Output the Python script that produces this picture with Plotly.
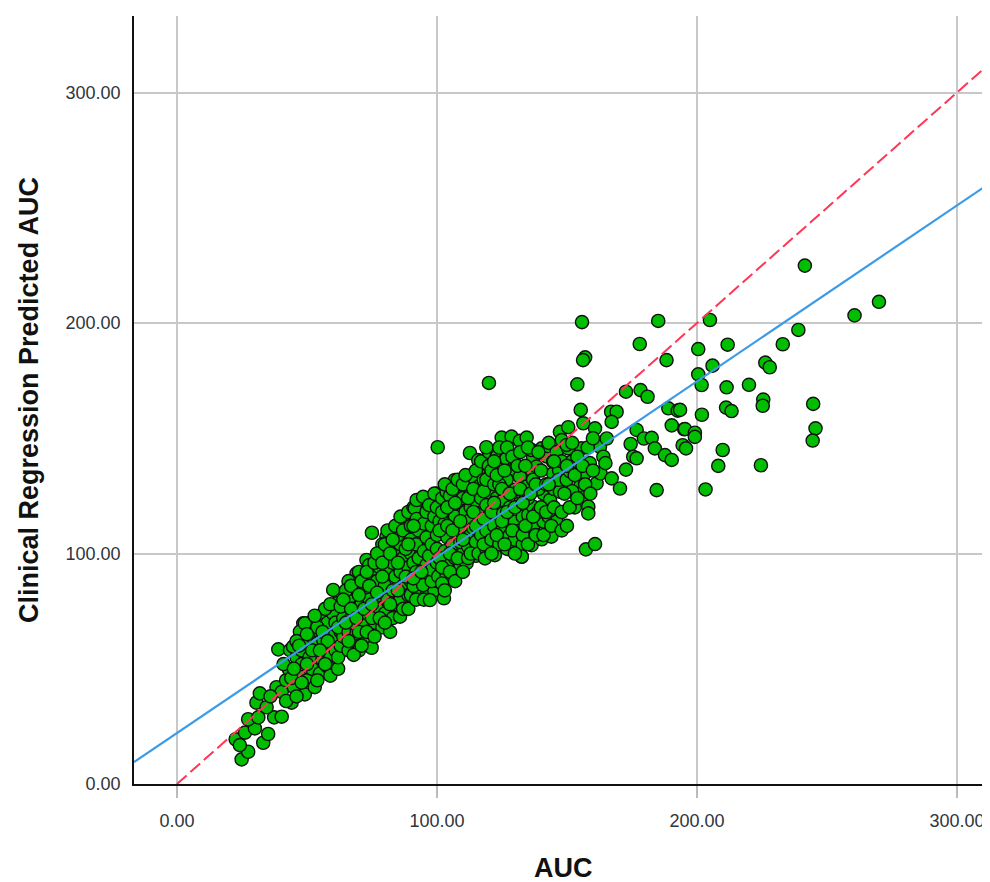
import plotly.graph_objects as go

# ---- data (AUC, predicted AUC) ----
pts_low = [
    (24.9,10.7),(27.4,14.0),(22.6,19.4),(24.2,16.9),(33.2,17.9),(35.1,21.7),(26.2,22.3),(30.0,24.1),
    (27.4,28.1),(31.3,28.9),(37.4,28.9),(40.3,29.2),(30.6,35.3),(31.9,39.3),(34.5,33.3),(38.3,42.0),
    (40.3,40.0),(44.1,35.3),(49.2,38.9),(39.0,58.4),(43.5,58.1),(36.0,38.0),(42.0,45.0),(45.0,42.0),
    (47.0,47.0),(43.0,50.0),(46.0,55.0),(41.0,52.0),(48.0,52.0),
    (44.7,59.6),(48.6,69.7),(51.8,70.4),(56.3,72.6),(47.3,66.1),(49.2,69.7),(50.0,45.0),(52.0,50.0),
    (53.0,56.0),(50.0,60.0),(52.0,64.0),(55.0,48.0),(56.0,54.0),(58.0,50.9),(57.0,60.0),(55.0,66.0),
    (58.0,70.0),(60.0,74.0),(53.0,42.0),(54.0,61.0),(59.0,56.0),(60.0,64.0),(61.4,78.4),(60.1,84.2),
    (56.3,62.5),(48.0,58.0),(46.0,62.0),(51.0,55.0),(54.0,68.0),(57.0,76.0),
    (42,36),(44,46),(46,38),(48,44),(50,52),(52,58),(54,45),(56,66),(58,62),(59,47),(45,50),(47,60),
    (55,58),(57,52),(53,73),(50,65),(59,78),(61,70),(61,58),(62,50),(63,66),
]

pts_mid = [
    (62,55),(63,60),(64,64),(62,68),(64,72),(63,77),(66,58),(66,66),(67,72),(66,80),(68,62),(69,68),
    (68,76),(69,84),(69.1,91.4),(70,58),(71,64),(72,70),(71,78),(72,86),(72.9,97.2),(74,62),(73,74),
    (74,80),(75,90),(75.5,65.4),(69.1,65.4),(74.9,59.1),(75,109),(66,88),(70,92),(74,95),(65,84),
    (76,70),(77,76),(78,82),(77,88),(78,94),(78.1,100),(79,68),(80,74),(81,80),(80,86),(81,92),
    (80,98),(80.6,107.3),(82,107.3),(83,72),(84,78),(83,84),(84,90),(83,96),(84,102),(85.8,113.1),
    (85.8,72.6),(86,80),(87,86),(86,92),(87,98),(86,104),(88,110),(88,76),(89,82),(89,94),(88,116),
    (90,100),(90,88),(79,104),(82,66),(85,108),
    (64,80),(65,70),(66,62),(67,76),(67,86),(68,56),(69,72),(70,82),(70,66),(71,88),(71,60),(72,76),
    (73,92),(73,66),(74,86),(75,72),(75,78),(76,96),(76,64),(77,83),(77,100),(78,72),(79,90),(79,96),
    (80,70),(80,104),
    (81,110),(82,100),(82,78),(83,106),(84,112),(85,84),(85,96),(86,116),(87,76),(87,110),(88,90),
    (88,102),(89,118),(89,76),(90,106),(90,112),(90,82),(91,96),(91,120),(92,85),(93,116),(94,106),
    (94,100),(94,120),(95,88),(96,124),(97,84),(97,110),(98,98),(98,118),(99,84),(99,108),(100,126),
    (100,88),
    (91.5,119.6),(92.2,123.2),(92,80),(91,86),(92,92),(93,98),(92,104),(93,110),(92.2,115),
    (94.7,124.6),(94.7,86.3),(90.9,89.2),(95,80),(96,95),(95,101),(96,107),(95,113),(96,118),
    (97.3,79.8),(98,88),(98,93),(97,99),(98,104),(98,112),(97,121),(99,116),(99,126),(100.5,90.1),
    (100,96),(100,102),(100,108),(101,114),(100,120),(102,124),(102.7,80.6),(100.3,146.1),
    (103.7,126.8),(103.7,90.1),(104,96),(103,101),(104,107),(103,113),(105,119),(106.9,131.9),
    (106,92),(107,98),(106,104),(108,110),(107,116),(108,122),(108,127),(109,94),(110,100),(109,105),
    (110,112),(111,118),(110,124),(111.4,129.7),(111.4,95.8),(112,103),(113,108),(112,114),(113,120),
    (113,126),(112.7,143.6),(114,133),(115,99),(115,105),(114,111),(116,117),(115,123),(116,129),
    (115.9,140.5),(116,136),(105,125),(109,130),(102,87),(94,92),(89,104),(91,112),
    (101,98),(101,110),(102,94),(102,118),(103,84),(103,130),(104,120),(104,112),(105,92),(105,100),
    (106,110),(106,128),(107,88),(107,122),(108,98),(108,132),(109,114),(110,106),(110,92),(110,130),
    (111,134),(112,98),(112,124),(113,100),(114,118),(114,128),(115,112),(115,136),(116,100),
    (117,108),(117,124),(117,140),(118,132),(119,102),(120,116),(120,126),(120,144),
]

pts_high = [
    (118.5,97.9),(118,104),(119,110),(118,115),(119,121),(118,127),(119,132),(120,138),(119,146.1),
    (120,174),(122.3,99.3),(121,106),(122,112),(121,118),(123,124),(122,130),(121,136),(123,142),
    (124.9,150.3),(124,104),(125,110),(125.5,117.5),(125.5,123.2),(126.8,132),(126.8,142),
    (126.7,141.2),(128.7,150.7),(127,102),(128,108),(128,114),(129.4,137),(130,127.6),(128,120),
    (129.9,136.5),(130,113.8),(130,106),(131.9,148.9),(134.5,150.3),(131.9,121.8),(132.6,98.6),
    (133,104),(132,110),(131.9,133.3),(134.5,129),(133,116),(135.1,116.8),(136.4,103.6),(136.4,136.2),
    (137,141.8),(137,120.3),(137,132),(137,111.7),(138.3,137.7),(136.4,144.9),(140.3,145.6),(141,126),
    (141,113.8),(140,107),(139,118),(142.3,142),(142.8,146.6),(143.5,123.2),(144.7,134.8),(144.7,139.8),
    (140.3,106.2),(144,107.3),(139,128),(143,116),(146,113.8),(132.6,98.7),(124,130),(135,124),
    (121,100),(122,122),(122,140),(123,108),(123,134),(124,146),(125,114),(125,128),(126,104),
    (126,136),(127,118),(127,146),(128,126),(129,110),(129,142),(130,100),(130,120),(131,138),
    (132,128),(132,144),(133,108),(133,122),(134,112),(134,138),(135,104),(135,146),(136,126),
    (137,116),(138,108),(138,130),(139,144),(140,120),(140,136),(141,108),(142,130),(142,118),
    (143,148),(144,112),(145,128),(145,120),(146,144),(147,136),(148,110),(148,140),
    (147.3,126.8),(146.7,132),(149.9,132),(151.2,135.6),(147.3,152.8),(148,149.2),(150.5,154.8),
    (150.5,145.6),(149.9,147.1),(155.6,145.6),(155,129),(155.6,126),(156.9,124.6),(156.9,134.8),
    (158.8,139.2),(155.3,162.3),(156.3,156.5),(160.8,154.3),(154,173.4),(157,185.1),(156.2,183.9),
    (155.8,200.4),(158.2,120.3),(158.2,117.4),(157.3,101.8),(160.8,104.1),(161.4,130.4),(162.7,146.3),
    (164,142),(162.9,134.8),(164.8,139.2),(165.3,149.9),(167,161.5),(169.1,161.5),(167.2,157.1),
    (167.2,132.6),(170.4,128.2),(152,140),(153,120),(148,118),(150,112),(145,140),(143,130),(152,127),
    (149,126),(150,138),(151,120),(152,148),(153,134),(154,124),(154,142),(156,138),(157,130),
    (158,146),(159,126),(160,136),(160,150),
]

pts_outer = [
    (172.7,170.2),(178.3,170.9),(181,168),(178,190.9),(188.3,183.9),(189,163),(192.6,162),(176.8,153.6),
    (190.3,155.6),(195.1,153.9),(179.6,149.9),(182.6,150.2),(174.5,147.5),(183.8,145.6),(187.7,142.7),
    (190.3,140.6),(175.5,142),(176.8,141.3),(172.7,136.4),(184.5,127.5),(185.1,200.9),
    (241.5,224.9),(270,209.2),(260.6,203.3),(205,201.3),(239,197),(233,190.8),(200.5,188.7),
    (211.8,190.6),(206,181.5),(226.3,182.8),(228,180.8),(200.5,177.7),(201.8,173.1),(211.4,172.1),
    (220,173.2),(193.5,162.3),(211.2,163.3),(213.3,161.8),(225.5,166.8),(225.3,164.1),(244.7,164.9),
    (245.6,154.3),(244.5,149),(201.9,160.2),(195.4,154),(199.2,152.4),(199.2,150.6),(194.5,147),
    (195.8,145.6),(209.9,144.9),(208.2,138),(224.6,138.3),(203.3,127.8),
]

# fitted regression line and identity reference
fit_intercept = 22.1
fit_slope = 0.763
x_range = [-16.5, 312.7]
y_range = [0, 333.2]
tick_vals = [0, 100, 200, 300]
tick_text = ["0.00", "100.00", "200.00", "300.00"]

all_pts = pts_low + pts_mid + pts_high + pts_outer
auc = [p[0] for p in all_pts]
pred = [p[1] for p in all_pts]

fig = go.Figure()
fig.add_trace(go.Scatter(
    x=auc, y=pred, mode="markers",
    marker=dict(size=13.2, color="rgb(0,190,0)", line=dict(color="#111111", width=1.4)),
    showlegend=False, hoverinfo="skip"))

fit_x = [x_range[0], x_range[1]]
fit_y = [fit_intercept + fit_slope * v for v in fit_x]
fig.add_trace(go.Scatter(x=fit_x, y=fit_y, mode="lines",
                         line=dict(color="rgb(60,155,230)", width=2.2), showlegend=False))
id_x = [0, x_range[1]]
fig.add_trace(go.Scatter(x=id_x, y=id_x, mode="lines",
                         line=dict(color="rgb(255,55,85)", width=2, dash="13px,5px"), showlegend=False))

tick_font = dict(family="Liberation Sans, Arial, sans-serif", size=18, color="#2e3440")
# the page has an 8px body margin, so the figure is offset to land where the reference sits
fig.update_layout(
    width=982, height=874,
    margin=dict(l=126, r=0, t=8, b=98),
    paper_bgcolor="white", plot_bgcolor="white",
    xaxis=dict(range=x_range, tickvals=tick_vals, ticktext=tick_text, showgrid=True,
               gridcolor="#c8c8c8", gridwidth=1.5, zeroline=False, showline=True,
               linecolor="#111111", linewidth=1.5, ticks="outside", ticklen=12,
               tickcolor="#bbbbbb", tickwidth=1.5, tickfont=tick_font, ticklabelstandoff=8),
    yaxis=dict(range=y_range, tickvals=tick_vals, ticktext=tick_text, showgrid=True,
               gridcolor="#c8c8c8", gridwidth=1.5, zeroline=False, showline=True,
               linecolor="#111111", linewidth=1.5, ticks="", tickfont=tick_font,
               ticklabelstandoff=8),
    annotations=[
        dict(text="<b>AUC</b>", xref="paper", yref="paper", x=0.502, y=0, yshift=-84,
             xanchor="center", yanchor="middle", showarrow=False,
             font=dict(family="Liberation Sans, Arial, sans-serif", size=27, color="#111111")),
        dict(text="<b>Clinical Regression Predicted AUC</b>", xref="paper", yref="paper",
             x=0, xshift=-105, y=0.5, xanchor="center", yanchor="middle", textangle=-90,
             showarrow=False,
             font=dict(family="Liberation Sans, Arial, sans-serif", size=27, color="#111111")),
    ],
)

fig.write_html("out.html")
